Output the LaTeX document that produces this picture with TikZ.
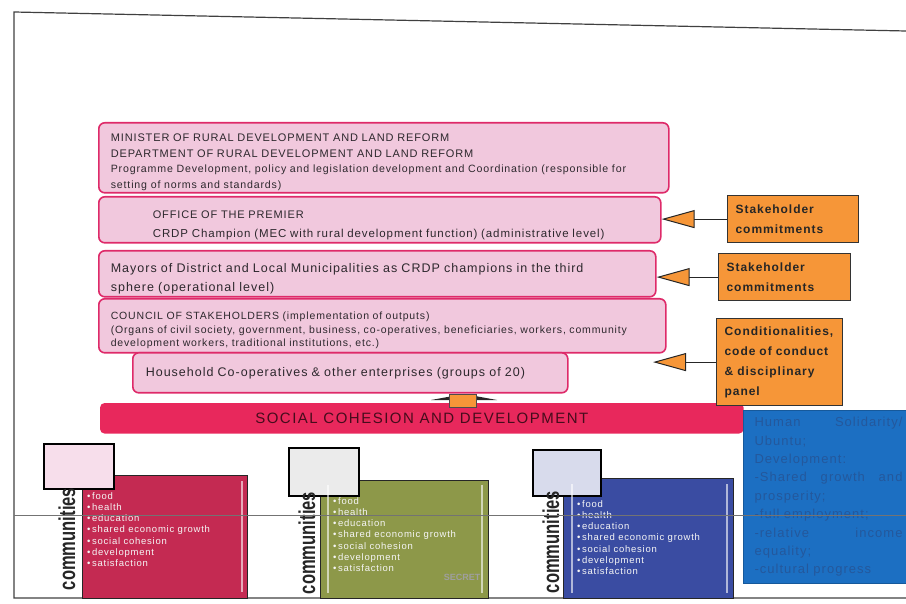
\documentclass[tikz,border=0pt]{standalone}
\usepackage{fontspec}
\setmainfont{Liberation Sans}
\newfontfamily\scanfont[LetterSpace=8]{Liberation Sans}
\newfontfamily\barfont[LetterSpace=10]{Liberation Sans}
\usepackage{tikz}
\usetikzlibrary{arrows.meta,positioning}
\usepackage{xcolor}
\definecolor{rdpink}{RGB}{241,200,221}
\definecolor{rdmagenta}{RGB}{222,42,105}
\definecolor{rdcrimson}{RGB}{232,40,92}
\definecolor{rdorange}{RGB}{246,150,56}
\definecolor{rdred}{RGB}{196,42,82}
\definecolor{rdolive}{RGB}{141,152,73}
\definecolor{rdnavy}{RGB}{58,76,162}
\definecolor{rdblue}{RGB}{28,111,194}
\definecolor{rdbluetext}{RGB}{36,88,156}
\definecolor{rdtext}{RGB}{45,40,45}
\newcommand{\lowerfirst}[1]{\rule{0pt}{#1}}
\tikzstyle{pinkbox} = [rectangle, rounded corners=6pt, draw=rdmagenta, fill=rdpink, line width=1.6pt, anchor=north west, align=left, inner xsep=12pt, inner ysep=0pt, text=rdtext]
\tikzstyle{orangebox} = [rectangle, draw=black!80, fill=rdorange, line width=1.2pt, anchor=north west, align=left, inner xsep=8pt, text=black!85, font=\scanfont\fontsize{12}{20}\selectfont\bfseries]
\tikzstyle{feedback} = [draw=black!85, line width=1pt, -{Triangle[length=33pt,width=18pt,fill=rdorange]}]
\tikzstyle{community} = [rectangle, draw=black!85, line width=1.2pt, anchor=north west, inner sep=0pt]
\tikzstyle{tag} = [rectangle, draw=black, line width=1.8pt, anchor=north west, inner sep=0pt]
\tikzstyle{vlabel} = [rotate=90, inner sep=0pt, text=black!85, font=\fontsize{23}{23}\selectfont\bfseries]
\tikzstyle{goals} = [anchor=north west, align=left, inner sep=0pt, text=white!92!gray, font=\scanfont\fontsize{9.5}{11.3}\selectfont]
\tikzstyle{stripe} = [white, opacity=0.6, line width=1.2pt]

\begin{document}
\begin{tikzpicture}[x=1pt, y=-1pt]
    \useasboundingbox (0,0) rectangle (906,604);

    % Page frame
    \draw[black!75, line width=1.2pt] (906,31) -- (14,12) -- (14,598) -- (906,598);

    % Levels of government
    \node[pinkbox, text width=546pt, minimum height=70pt, font=\scanfont\fontsize{11}{15.5}\selectfont] (minister) at (98,122) {
        \lowerfirst{17pt}MINISTER OF RURAL DEVELOPMENT AND LAND REFORM\\
        DEPARTMENT OF RURAL DEVELOPMENT AND LAND REFORM\\
        {\fontsize{10.6}{14.5}\selectfont Programme Development, policy and legislation development and Coordination (responsible for}\\
        {\fontsize{10.6}{14.5}\selectfont setting of norms and standards)}
    };
    \node[pinkbox, text width=538pt, minimum height=46pt, font=\scanfont\fontsize{11}{19}\selectfont] (office) at (98,196) {
        \lowerfirst{18pt}\hspace*{42pt}OFFICE OF THE PREMIER\\
        \hspace*{42pt}{\fontsize{11.5}{19}\selectfont CRDP Champion (MEC with rural development function) (administrative level)}
    };
    \node[pinkbox, text width=533pt, minimum height=46pt, font=\scanfont\fontsize{12.5}{19}\selectfont] (mayors) at (98,250) {
        \lowerfirst{19pt}Mayors of District and Local Municipalities as CRDP champions in the third\\
        sphere (operational level)
    };
    \node[pinkbox, text width=543pt, minimum height=54pt, font=\scanfont\fontsize{10.5}{13.5}\selectfont] (council) at (98,298) {
        \lowerfirst{17pt}COUNCIL OF STAKEHOLDERS (implementation of outputs)\\
        (Organs of civil society, government, business, co-operatives, beneficiaries, workers, community\\
        development workers, traditional institutions, etc.)
    };
    \node[pinkbox, text width=409pt, inner xsep=13pt, minimum height=40pt, font=\scanfont\fontsize{12.5}{15}\selectfont] (household) at (132,352) {
        Household Co-operatives \& other enterprises (groups of 20)
    };

    % Social cohesion bar
    \node[pinkbox, fill=rdcrimson, draw=rdcrimson, rounded corners=4pt, minimum width=642pt, minimum height=29pt, align=center, text=black!70!rdcrimson, font=\barfont\fontsize{15}{15}\selectfont] (cohesion) at (100,403) {SOCIAL COHESION AND DEVELOPMENT};
    \fill[black!85] (431,400) -- (464,394) -- (497,400) -- cycle;
    \node[rectangle, draw=black!70, fill=rdorange, minimum width=27pt, minimum height=13pt, inner sep=0pt] (lift) at (463,401) {};

    % Inputs on the right
    \node[orangebox, text width=115pt, minimum height=47pt] (stake1) at (727,195) {Stakeholder\\commitments};
    \node[orangebox, text width=116pt, minimum height=47pt] (stake2) at (718,253) {Stakeholder\\commitments};
    \node[orangebox, text width=110pt, minimum height=87pt] (cond) at (716,318) {Conditionalities,\\code of conduct\\\& disciplinary\\panel};
    \coordinate (condtip) at (653,0);

    \draw[feedback] (stake1.west) -- (stake1.west -| office.east);
    \draw[feedback] (stake2.west) -- (stake2.west -| mayors.east);
    \draw[feedback] (cond.west) -- (cond.west -| condtip);

    % Communities
    \node[community, fill=rdred, minimum width=165pt, minimum height=123pt] (com1) at (82,475) {};
    \node[tag, fill=rdpink!60!white, minimum width=70pt, minimum height=45pt] (tag1) at (43,443) {};
    \node[vlabel] (lab1) at (67,539) {\scalebox{0.72}[1]{communities}};
    \node[goals] (list1) at (87,492) {\textbullet\,food\\\textbullet\,health\\\textbullet\,education\\\textbullet\,shared economic growth\\\textbullet\,social cohesion\\\textbullet\,development\\\textbullet\,satisfaction};
    \draw[stripe] (242,481) -- (242,592);

    \node[community, fill=rdolive, minimum width=168pt, minimum height=118pt] (com2) at (320,480) {};
    \node[tag, fill=black!8, minimum width=70pt, minimum height=48pt] (tag2) at (288,447) {};
    \node[vlabel] (lab2) at (307,543) {\scalebox{0.72}[1]{communities}};
    \node[goals] (list2) at (333,497) {\textbullet\,food\\\textbullet\,health\\\textbullet\,education\\\textbullet\,shared economic growth\\\textbullet\,social cohesion\\\textbullet\,development\\\textbullet\,satisfaction};
    \node[font=\fontsize{9}{9}\selectfont\bfseries, text=gray!75, inner sep=0pt] (secret) at (462,577) {SECRET};
    \draw[stripe] (328,485) -- (328,593);
    \draw[stripe] (482,485) -- (482,593);

    \node[community, fill=rdnavy, minimum width=170pt, minimum height=120pt] (com3) at (563,478) {};
    \node[tag, fill=rdnavy!20!white, minimum width=68pt, minimum height=46pt] (tag3) at (532,449) {};
    \node[vlabel] (lab3) at (551,542) {\scalebox{0.72}[1]{communities}};
    \node[goals] (list3) at (577,500) {\textbullet\,food\\\textbullet\,health\\\textbullet\,education\\\textbullet\,shared economic growth\\\textbullet\,social cohesion\\\textbullet\,development\\\textbullet\,satisfaction};
    \draw[stripe] (572,484) -- (572,593);
    \draw[stripe] (727,484) -- (727,593);

    % Values
    \node[anchor=north west, fill=rdblue, draw=rdblue!80!black, line width=1pt, text width=148pt, inner xsep=11pt, inner ysep=6pt, minimum height=173pt, align=left, text=rdbluetext, font=\scanfont\fontsize{13}{18.4}\selectfont] (values) at (743,410) {
        Human\hfill Solidarity/\\
        Ubuntu;\\
        Development:\\
        -Shared\hfill growth\hfill and\\
        prosperity;\\
        -full employment;\\
        -relative\hfill income\\
        equality;\\
        -cultural progress
    };

    % Fold line
    \draw[black!55, line width=0.8pt] (14,515) -- (906,515);
\end{tikzpicture}
\end{document}
